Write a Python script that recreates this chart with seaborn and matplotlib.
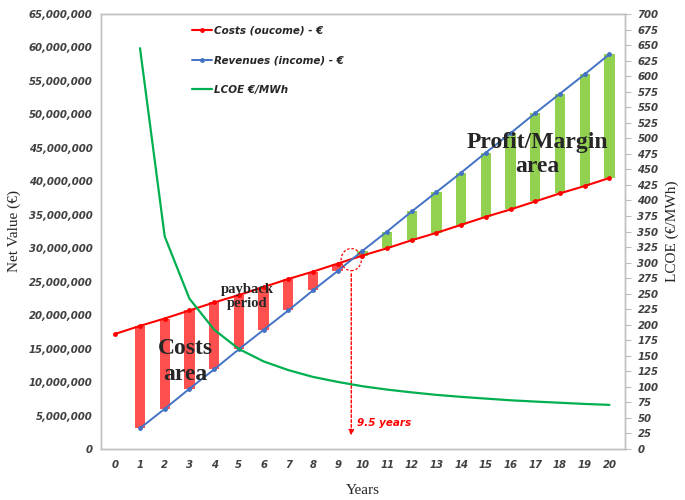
import numpy as np
import pandas as pd
import seaborn as sns
import matplotlib
matplotlib.use("Agg")
import matplotlib.pyplot as plt
from matplotlib.patches import Ellipse
from matplotlib.ticker import FuncFormatter, MultipleLocator

# ---------------- data ----------------
years = list(range(0, 21))
costs = [17.2, 18.4, 19.5, 20.7, 21.9, 23.0, 24.2, 25.4, 26.5, 27.7, 28.9,
         30.0, 31.2, 32.3, 33.5, 34.7, 35.8, 37.0, 38.2, 39.3, 40.5]  # million €
rev_years = list(range(1, 21))
revenues = [3.1, 6.0, 9.0, 11.9, 14.9, 17.8, 20.7, 23.7, 26.6, 29.6,
            32.5, 35.5, 38.4, 41.3, 44.3, 47.2, 50.2, 53.1, 56.0, 59.0]  # million €
lcoe = [645, 342, 242, 192, 161, 141, 127, 116, 108, 101,
        95.6, 91.1, 87.1, 83.9, 81.1, 78.4, 76.3, 74.4, 72.5, 71.0]  # €/MWh
payback_year = 9.5
payback_value = 28.3  # million €

M = 1e6
df_cost = pd.DataFrame({"year": years, "value": np.array(costs) * M})
df_rev = pd.DataFrame({"year": rev_years, "value": np.array(revenues) * M})
df_lcoe = pd.DataFrame({"year": rev_years, "lcoe": lcoe})

# ---------------- style ----------------
sns.set_theme(style="white")
plt.rcParams["font.family"] = ["DejaVu Sans"]

RED = "#ff0000"
RED_BAR = "#ff5050"
GREEN_BAR = "#92d050"
BLUE = "#4472c4"
GREEN = "#00b050"
SPINE = "#bfbfbf"
TICK_TXT = "#404040"

fig = plt.figure(figsize=(6.85, 5.0), dpi=100)
ax = fig.add_axes([0.1474, 0.102, 0.7650, 0.870])
ax2 = ax.twinx()

# bars between revenue and cost
cost_at = dict(zip(years, costs))
for y, r in zip(rev_years, revenues):
    c = cost_at[y]
    lo, hi = min(c, r), max(c, r)
    col = RED_BAR if c > r else GREEN_BAR
    ax.bar(y, (hi - lo) * M, bottom=lo * M, width=0.42, color=col, zorder=2,
           linewidth=0)

sns.lineplot(data=df_cost, x="year", y="value", ax=ax, color=RED, marker="o",
             markersize=3.5, markeredgewidth=0, linewidth=1.5, zorder=3,
             label="Costs (oucome) - €", legend=False)
sns.lineplot(data=df_rev, x="year", y="value", ax=ax, color=BLUE, marker="o",
             markersize=3.5, markeredgewidth=0, linewidth=1.4, zorder=3,
             label="Revenues (income) - €", legend=False)
sns.lineplot(data=df_lcoe, x="year", y="lcoe", ax=ax2, color=GREEN,
             linewidth=1.6, label="LCOE €/MWh", legend=False)

# axes limits / ticks
ax.set_xlim(-0.58, 20.63)
ax.set_ylim(0, 65 * M)
ax2.set_ylim(0, 700)
ax.set_xticks(years)
ax.set_xticks(np.arange(-0.5, 21, 1), minor=True)
ax.yaxis.set_major_locator(MultipleLocator(5 * M))
ax.yaxis.set_major_formatter(FuncFormatter(lambda v, p: f"{int(round(v)):,}"))
ax2.yaxis.set_major_locator(MultipleLocator(25))

for lab in ax.get_xticklabels() + ax.get_yticklabels() + ax2.get_yticklabels():
    lab.set_fontsize(7.3)
    lab.set_fontstyle("italic")
    lab.set_fontweight("bold")
    lab.set_color(TICK_TXT)

ax.tick_params(axis="x", which="major", length=0, pad=8)
ax.tick_params(axis="x", which="minor", length=3, direction="in", color=SPINE, width=0.8)
ax.tick_params(axis="y", which="major", length=0, pad=6)
ax2.tick_params(axis="y", which="major", length=4, direction="out", color=SPINE,
                width=0.8, pad=5)

for a in (ax, ax2):
    for s in a.spines.values():
        s.set_color(SPINE)
        s.set_linewidth(1.0)

ax.set_xlabel("Years", fontsize=11, family="Liberation Serif", labelpad=10)
ax.set_ylabel("Net Value (€)", fontsize=11, family="Liberation Serif", labelpad=6)
ax2.set_ylabel("LCOE (€/MWh)", fontsize=11, family="Liberation Serif", labelpad=5)
ax.grid(False)
ax2.grid(False)

# legend
h1, l1 = ax.get_legend_handles_labels()
h2, l2 = ax2.get_legend_handles_labels()
leg = ax2.legend(h1 + h2, l1 + l2, loc="upper left", bbox_to_anchor=(0.155, 0.995),
                 frameon=False, labelspacing=1.9, handlelength=2.0, handletextpad=0.2,
                 prop=dict(size=7.5, style="italic", weight="bold"))
for t in leg.get_texts():
    t.set_color("#262626")

# annotations
ax.text(2.85, 13.1 * M, "Costs\narea", ha="center", va="center", fontsize=17,
        fontweight="bold", family="Liberation Serif", linespacing=1.3, zorder=5)
ax.text(5.35, 22.8 * M, "payback\nperiod", ha="center", va="center", fontsize=10.5,
        fontweight="bold", family="Liberation Serif", linespacing=1.05, zorder=5)
ax.text(17.1, 44.0 * M, "Profit/Margin\narea", ha="center", va="center", fontsize=17,
        fontweight="bold", family="Liberation Serif", linespacing=1.15, zorder=5)

ell = Ellipse((payback_year + 0.05, payback_value * M), width=0.82, height=3.3 * M,
              fill=False, edgecolor=RED, linestyle=(0, (2, 1.5)), linewidth=0.9,
              zorder=6)
ax.add_patch(ell)
ax.annotate("", xy=(payback_year + 0.05, 1.6 * M),
            xytext=(payback_year + 0.05, payback_value * M - 1.7 * M),
            arrowprops=dict(arrowstyle="-|>", color=RED, linestyle=(0, (2, 1.5)),
                            linewidth=1.0, mutation_scale=8), zorder=6)
ax.text(payback_year + 0.3, 3.9 * M, f"{payback_year} years", color=RED,
        fontsize=7.5, fontstyle="italic", fontweight="bold", ha="left", va="center",
        zorder=6)

fig.savefig("out.png", dpi=100)
